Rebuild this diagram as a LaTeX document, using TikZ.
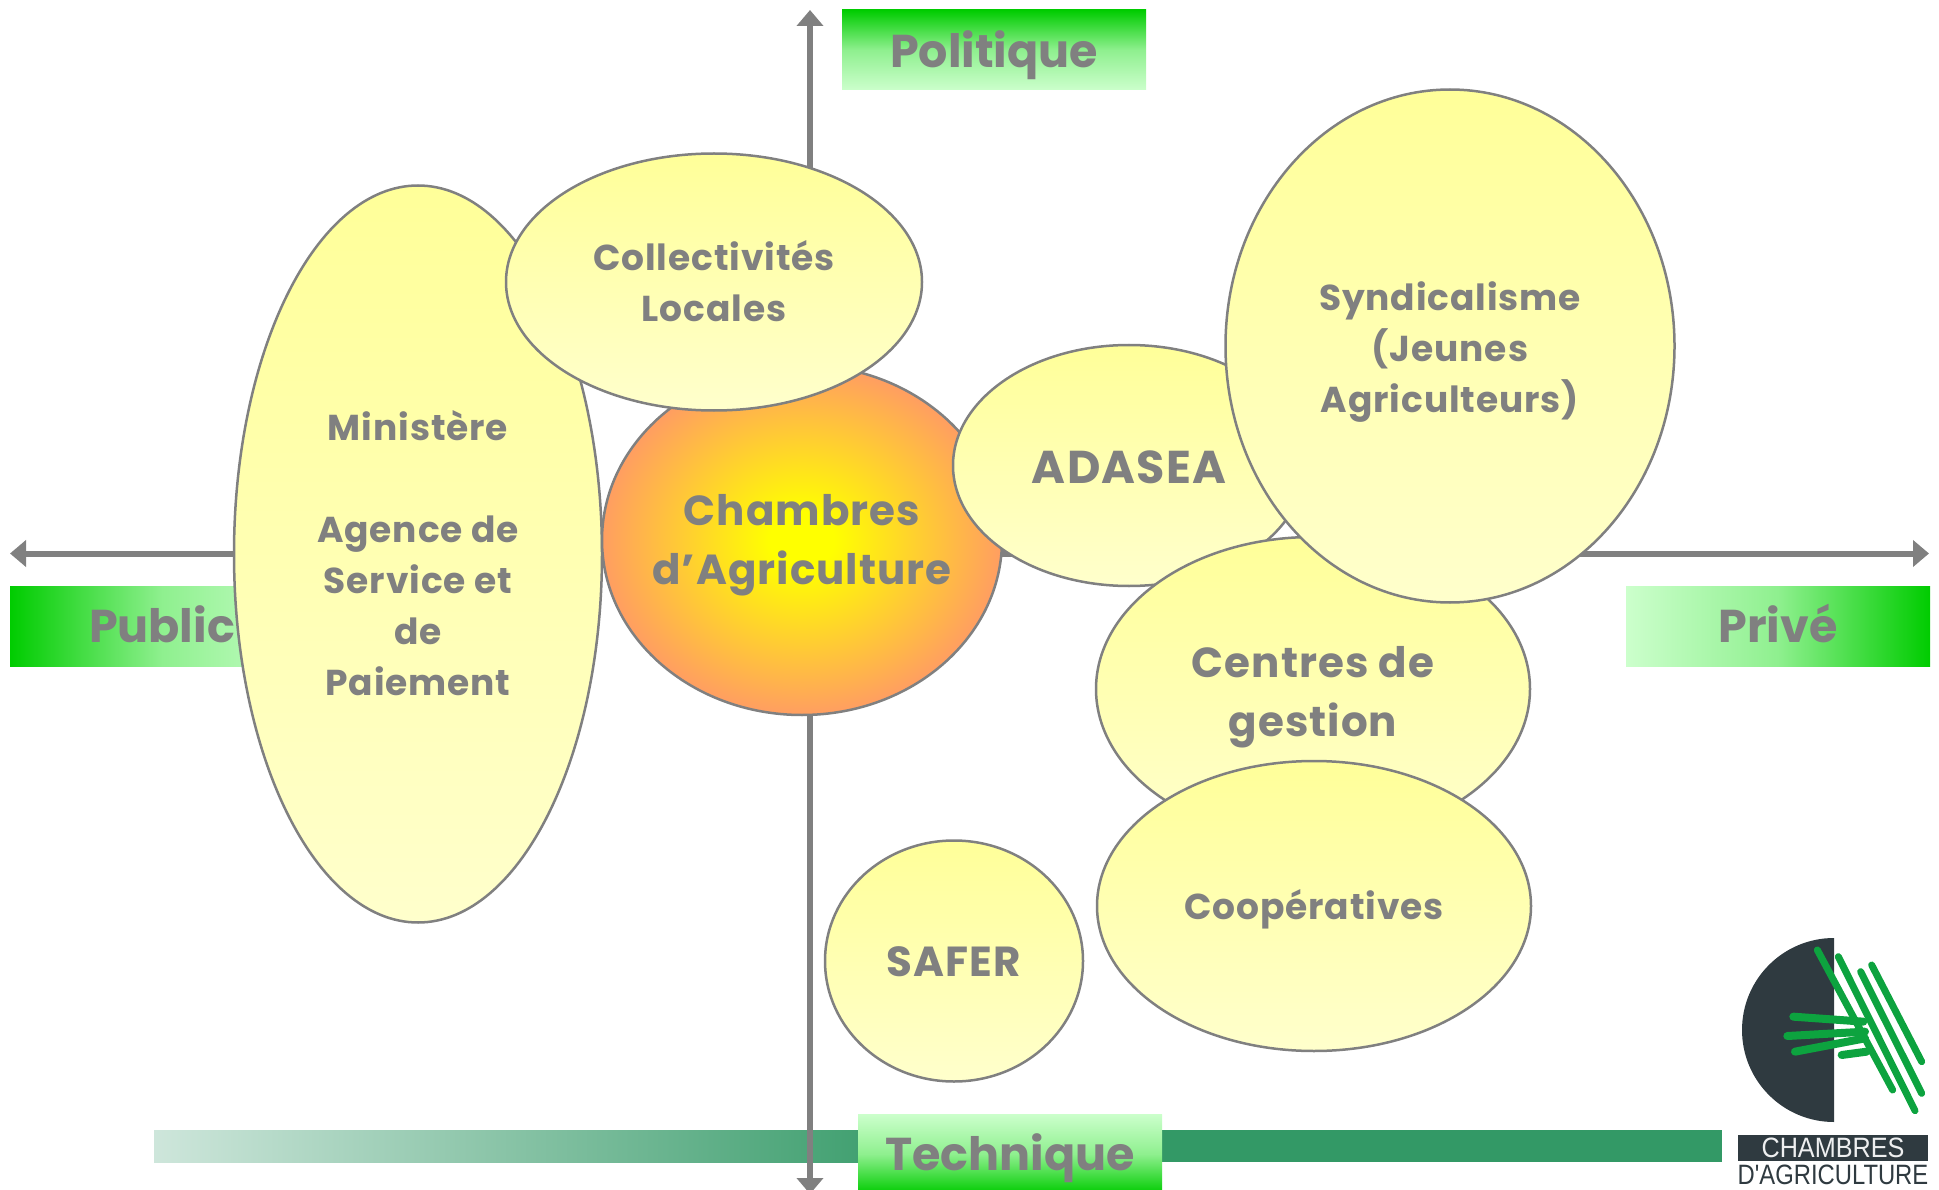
\documentclass[tikz,border=0pt]{standalone}
\usepackage{fontspec}
\setmainfont{Poppins}
\newfontfamily\logofont{Liberation Sans}
\usetikzlibrary{shapes.geometric,arrows.meta}
\definecolor{axisgrey}{HTML}{808080}
\definecolor{boxgreen}{HTML}{00CC00}
\definecolor{boxpale}{HTML}{CCFFCC}
\definecolor{barstart}{HTML}{CEE6DB}
\definecolor{bargreen}{HTML}{339966}
\definecolor{ovaltop}{HTML}{FFFF99}
\definecolor{ovalbottom}{HTML}{FFFFCC}
\definecolor{chamberedge}{HTML}{FF9966}
\definecolor{logodark}{HTML}{2F3A40}
\definecolor{logogreen}{HTML}{0DA33F}
\pgfdeclareradialshading{chambershade}{\pgfpoint{0bp}{0bp}}{color(0bp)=(yellow); color(4bp)=(yellow); color(26bp)=(chamberedge); color(100bp)=(chamberedge)}
\newcommand{\ovalfont}[2]{\fontsize{#1}{#2}\selectfont\bfseries\addfontfeature{LetterSpace=2.5}}
\tikzset{
  axisline/.style={draw=axisgrey,line width=6pt,{Triangle[width=26pt,length=16pt]}-{Triangle[width=26pt,length=16pt]}},
  titlebox/.style={minimum width=304pt,minimum height=80pt,inner sep=0pt},
  titlemid/.style={middle color=boxgreen!30!boxpale},
  titletext/.style={inner sep=0pt,text=axisgrey,font={\fontsize{46}{56}\selectfont\bfseries}},
  oval/.style={ellipse,draw=axisgrey,line width=2.5pt,top color=ovaltop,bottom color=ovalbottom,middle color=ovaltop!50!ovalbottom,inner sep=0pt},
  ovaltext/.style={inner sep=0pt,align=center,text=axisgrey,font={\ovalfont{36}{51}}},
  bigtext/.style={ovaltext,font={\ovalfont{42}{59}}},
  leaf/.style={draw=logogreen,line width=7pt,line cap=round},
  blade/.style={draw=logogreen,line width=8pt,line cap=round},
}
\begin{document}
\begin{tikzpicture}[x=1pt,y=-1pt]
\useasboundingbox (0,0) rectangle (1939,1190);
\clip (0,0) rectangle (1939,1190);
% bar at the bottom
\fill[left color=barstart,right color=bargreen] (154,1130) rectangle (938,1162);
\fill[bargreen] (938,1130) rectangle (1722,1162);
% axes
\coordinate (axisW) at (10,553.5);
\coordinate (axisE) at (1929,553.5);
\coordinate (axisN) at (810,10);
\coordinate (axisS) at (810,1194);
\draw[axisline] (axisW) -- (axisE);
\draw[axisline] (axisN) -- (axisS);
% title boxes
\node[titlebox,left color=boxgreen,right color=boxpale,titlemid] (public) at (162,626) {};
\node[titletext,yshift=2pt] (publictext) at (public) {Public};
\node[titlebox,left color=boxpale,right color=boxgreen,titlemid] (prive) at (1778,626) {};
\node[titletext,yshift=3pt] (privetext) at (prive) {Privé};
\node[titlebox,top color=boxgreen,bottom color=boxpale,titlemid] (politique) at (994,50) {};
\node[titletext,yshift=-5pt] (politiquetext) at (politique) {Politique};
\node[titlebox,top color=boxpale,bottom color=boxgreen,titlemid] (technique) at (1010,1154) {};
\node[titletext,yshift=-4pt] (techniquetext) at (technique) {Technique};
% ovals
\node[oval,minimum width=368pt,minimum height=737pt] (ministere) at (418,554) {};
\node[ovaltext,yshift=1pt] (ministeretext) at (ministere) {Ministère\\~\\Agence de\\Service et\\de\\Paiement};
\node[oval,minimum width=400pt,minimum height=350pt,shading=chambershade] (chambres) at (802,540) {};
\node[bigtext,yshift=-5pt] (chambrestext) at (chambres) {Chambres\\d’Agriculture};
\node[oval,minimum width=416pt,minimum height=257pt] (collectivites) at (714,282) {};
\node[ovaltext,yshift=1pt] (collectivitestext) at (collectivites) {Collectivités\\Locales};
\node[oval,minimum width=352pt,minimum height=241pt] (adasea) at (1129,465.5) {};
\node[bigtext,font={\ovalfont{46}{59}},yshift=-2pt] (adaseatext) at (adasea) {ADASEA};
\node[oval,minimum width=434pt,minimum height=304pt] (centres) at (1313,689) {};
\node[bigtext,yshift=-8pt] (centrestext) at (centres) {Centres de\\gestion};
\node[oval,minimum width=449pt,minimum height=513pt] (syndicalisme) at (1450,346) {};
\node[ovaltext,yshift=-6pt] (syndicalismetext) at (syndicalisme) {Syndicalisme\\(Jeunes\\Agriculteurs)};
\node[oval,minimum width=434pt,minimum height=290pt] (cooperatives) at (1314,906) {};
\node[ovaltext,yshift=-3pt] (cooperativestext) at (cooperatives) {Coopératives};
\node[oval,minimum width=258pt,minimum height=241pt] (safer) at (954,961) {};
\node[ovaltext,font={\ovalfont{42}{51}},yshift=-1pt] (safertext) at (safer) {SAFER};
% logo
\fill[logodark] (1834,938) arc[start angle=270,end angle=90,x radius=92,y radius=92] -- cycle;
\begin{scope}[shift={(1700,920)},scale=1/3]
\draw[leaf] (352,90) -- (578,510);
\draw[leaf] (415,110) -- (645,572);
\draw[leaf] (482,155) -- (665,520);
\draw[leaf] (515,135) -- (665,425);
\draw[blade] (280,290) -- (490,305);
\draw[blade] (262,348) -- (495,335);
\draw[blade] (285,395) -- (495,355);
\draw[blade] (425,405) -- (500,395);
\end{scope}
\node[fill=logodark,minimum width=190pt,minimum height=26pt,inner sep=0pt,text=white!92!logodark,font={\logofont\fontsize{28}{28}\selectfont}] (logotop) at (1833,1148) {\scalebox{0.9}[1]{CHAMBRES}};
\node[inner sep=0pt,text=logodark,font={\logofont\fontsize{28}{28}\selectfont}] (logobottom) at (1833,1175) {\scalebox{0.85}[1]{D'AGRICULTURE}};
\end{tikzpicture}
\end{document}
